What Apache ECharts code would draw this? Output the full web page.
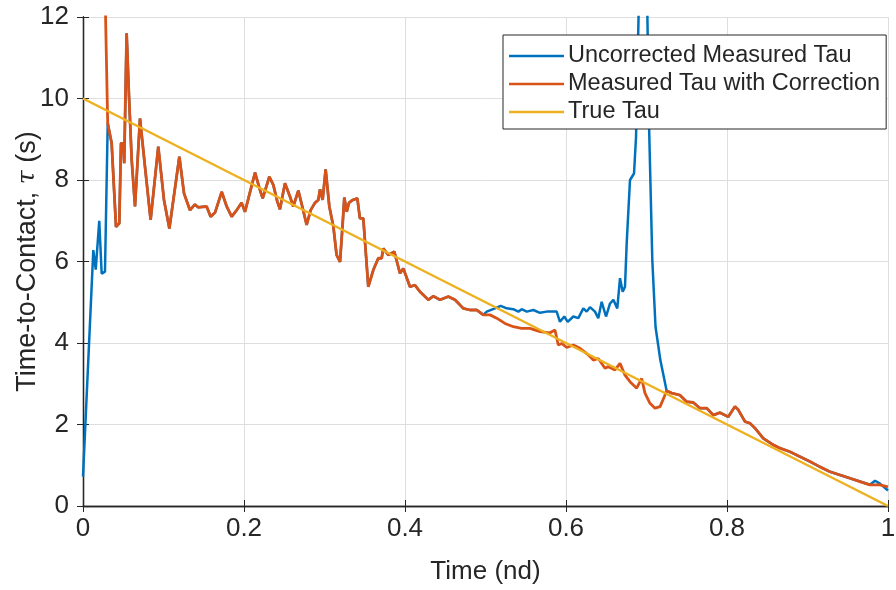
<!DOCTYPE html>
<html>
<head>
<meta charset="utf-8">
<script src="https://cdn.jsdelivr.net/npm/echarts@6/dist/echarts.min.js"></script>
<style>
  html, body { margin: 0; padding: 0; background: #fff; }
  #chart { width: 896px; height: 590px; }
</style>
</head>
<body>
<div id="chart"></div>
<script>
// Tick labels
const xTicks = [0, 0.2, 0.4, 0.6, 0.8, 1];
const yTicks = [0, 2, 4, 6, 8, 10, 12];

// Measured tau with correction (time in nd, tau in s)
const tCorr = [0.026, 0.0307, 0.0356, 0.041, 0.0451, 0.0472, 0.05, 0.0512, 0.0542, 0.057,
  0.0605, 0.0646, 0.0708, 0.077, 0.084, 0.0935, 0.1006, 0.1073, 0.1197, 0.1255,
  0.1329, 0.139, 0.143, 0.1536, 0.1586, 0.164, 0.1723, 0.1785, 0.1847, 0.1909,
  0.197, 0.2012, 0.2137, 0.2199, 0.2232, 0.2315, 0.2364, 0.2414, 0.2447, 0.2509,
  0.2572, 0.2612, 0.2675, 0.2724, 0.2778, 0.2828, 0.2882, 0.2923, 0.2944, 0.2977,
  0.3014, 0.306, 0.311, 0.315, 0.3193, 0.3226, 0.3246, 0.3276, 0.3304, 0.335,
  0.3408, 0.344, 0.3482, 0.3544, 0.3606, 0.3668, 0.371, 0.373, 0.3792, 0.3867,
  0.3938, 0.3979, 0.4062, 0.4124, 0.4186, 0.429, 0.4352, 0.4435, 0.4538, 0.4621,
  0.4724, 0.4807, 0.489, 0.4973, 0.5056, 0.5139, 0.5242, 0.5346, 0.5449, 0.5553,
  0.5677, 0.5801, 0.5863, 0.5904, 0.5947, 0.6009, 0.6091, 0.6174, 0.6277, 0.6339,
  0.6401, 0.6422, 0.6484, 0.6526, 0.6609, 0.6671, 0.6733, 0.6795, 0.6878, 0.694,
  0.6981, 0.7043, 0.7106, 0.7168, 0.7221, 0.725, 0.7313, 0.7416, 0.7499, 0.7581,
  0.7665, 0.7748, 0.783, 0.7913, 0.8016, 0.8099, 0.814, 0.8224, 0.8286, 0.8348,
  0.8451, 0.8575, 0.8658, 0.8783, 0.8907, 0.9031, 0.9155, 0.928, 0.9404, 0.9528,
  0.9652, 0.9776, 0.99, 1.0];
const tauCorr = [14.0, 9.39, 8.9, 6.85, 6.94, 8.9, 8.9, 8.41, 11.6, 10.13,
  8.49, 7.35, 9.51, 8.33, 7.02, 8.82, 7.51, 6.81, 8.57, 7.67,
  7.26, 7.4, 7.33, 7.35, 7.1, 7.2, 7.71, 7.35, 7.1, 7.26,
  7.44, 7.22, 8.18, 7.75, 7.55, 8.08, 7.88, 7.47, 7.28, 7.92,
  7.59, 7.35, 7.74, 7.35, 6.9, 7.26, 7.44, 7.51, 7.77, 7.51,
  8.26, 7.35, 6.86, 6.16, 5.99, 6.94, 7.57, 7.22, 7.44, 7.51,
  7.55, 7.06, 7.06, 5.38, 5.79, 6.08, 6.08, 6.32, 6.16, 6.24,
  5.71, 5.83, 5.38, 5.42, 5.26, 5.06, 5.15, 5.06, 5.14, 5.06,
  4.85, 4.81, 4.81, 4.69, 4.69, 4.61, 4.48, 4.4, 4.36, 4.36,
  4.28, 4.25, 4.32, 3.95, 3.99, 3.89, 3.95, 3.87, 3.71, 3.58,
  3.62, 3.65, 3.38, 3.42, 3.34, 3.5, 3.21, 3.05, 2.89, 3.13,
  2.77, 2.52, 2.4, 2.44, 2.68, 2.83, 2.77, 2.72, 2.56, 2.54,
  2.4, 2.4, 2.23, 2.29, 2.19, 2.44, 2.36, 2.07, 2.03, 1.91,
  1.66, 1.5, 1.42, 1.33, 1.21, 1.09, 0.96, 0.84, 0.76, 0.68,
  0.6, 0.52, 0.52, 0.47];

// Uncorrected measured tau: where it departs from the corrected curve
const tRawHead = [0, 0.0128, 0.0158, 0.0202, 0.0232, 0.0273];
const tauRawHead = [0.72, 6.28, 5.8, 7.0, 5.7, 5.75];
const tRawMid = [0.5015, 0.5118, 0.5189, 0.5263, 0.5345, 0.5408, 0.545, 0.5512, 0.5594, 0.5677,
  0.576, 0.5884, 0.5925, 0.5979, 0.6021, 0.6091, 0.6153, 0.6215, 0.6257, 0.6298,
  0.636, 0.6401, 0.6443, 0.6497, 0.6547, 0.6588, 0.6637, 0.6671, 0.6704, 0.6733,
  0.6754, 0.6795, 0.6845, 0.687, 0.6965, 0.7032, 0.7072, 0.7112, 0.7172];
const tauRawMid = [4.77, 4.85, 4.91, 4.85, 4.83, 4.77, 4.83, 4.77, 4.81, 4.74,
  4.77, 4.77, 4.52, 4.65, 4.52, 4.65, 4.61, 4.85, 4.77, 4.88,
  4.77, 4.61, 5.01, 4.65, 4.97, 5.06, 4.85, 5.59, 5.26, 5.38,
  6.45, 8.0, 8.16, 9.06, 18.0, 9.31, 6.04, 4.4, 3.58];
const tRawTail = [0.9839, 0.99, 1.0];
const tauRawTail = [0.62, 0.55, 0.38];

// True tau
const tTrue = [0, 1];
const tauTrue = [10, 0];

const pairs = (ts, vs) => ts.map((t, i) => [t, vs[i]]);
const corrPts = pairs(tCorr, tauCorr);
// the uncorrected series follows the corrected one outside its own segments
const shared1 = corrPts.filter(p => p[0] >= 0.0307 && p[0] <= 0.4973);
const shared2 = corrPts.filter(p => p[0] >= 0.725 && p[0] <= 0.9776);
const rawPts = [].concat(pairs(tRawHead, tauRawHead), shared1, pairs(tRawMid, tauRawMid),
  shared2, pairs(tRawTail, tauRawTail));

const ink = '#262626';
const font = 'Liberation Sans, Arial, sans-serif';

const chart = echarts.init(document.getElementById('chart'), null, { renderer: 'canvas' });
const baseX = { type: 'value', min: xTicks[0], max: xTicks[xTicks.length - 1], interval: 0.2 };
const baseY = { type: 'value', min: yTicks[0], max: yTicks[yTicks.length - 1], interval: 2 };

chart.setOption({
  animation: false,
  backgroundColor: '#fff',
  grid: { left: 83, right: 8, top: 17, bottom: 84, containLabel: false, outerBoundsMode: 'none' },
  legend: {
    left: 503, top: 35, orient: 'vertical',
    backgroundColor: '#fff', borderColor: ink, borderWidth: 1, borderRadius: 0,
    padding: [7, 6, 3, 6], itemGap: 0,
    icon: 'rect', itemWidth: 55, itemHeight: 2.5,
    textStyle: { fontFamily: font, fontSize: 23.5, color: ink, lineHeight: 28, padding: [0, 0, 0, -1] },
    data: ['Uncorrected Measured Tau', 'Measured Tau with Correction', 'True Tau']
  },
  xAxis: [
    Object.assign({}, baseX, {
      position: 'bottom',
      name: 'Time (nd)', nameLocation: 'middle', nameGap: 53, nameMoveOverlap: false,
      nameTextStyle: { fontFamily: font, fontSize: 26, color: ink },
      axisLine: { show: true, lineStyle: { color: ink, width: 1.3 } },
      axisTick: { show: true, inside: true, length: 6, lineStyle: { color: ink } },
      axisLabel: { fontFamily: font, fontSize: 26, color: ink, margin: 10,
        formatter: v => String(+v.toFixed(1)) },
      splitLine: { show: true, lineStyle: { color: '#dedede', width: 1 } }
    }),
    Object.assign({}, baseX, {
      position: 'top',
      axisLine: { show: true, lineStyle: { color: ink, width: 1.3 } },
      axisTick: { show: true, inside: true, length: 6, lineStyle: { color: ink } },
      axisLabel: { show: false }, splitLine: { show: false }
    })
  ],
  yAxis: [
    Object.assign({}, baseY, {
      position: 'left',
      name: 'Time-to-Contact, {i|τ} (s)', nameLocation: 'middle', nameGap: 42, nameRotate: 90,
      nameMoveOverlap: false,
      nameTextStyle: { fontFamily: font, fontSize: 27, color: ink,
        rich: { i: { fontFamily: 'DejaVu Serif, serif', fontStyle: 'italic', fontSize: 25, color: ink } } },
      axisLine: { show: true, lineStyle: { color: ink, width: 1.3 } },
      axisTick: { show: true, inside: true, length: 6, lineStyle: { color: ink } },
      axisLabel: { fontFamily: font, fontSize: 26, color: ink, margin: 14 },
      splitLine: { show: true, lineStyle: { color: '#dedede', width: 1 } }
    }),
    Object.assign({}, baseY, {
      position: 'right',
      axisLine: { show: true, lineStyle: { color: ink, width: 1.3 } },
      axisTick: { show: true, inside: true, length: 6, lineStyle: { color: ink } },
      axisLabel: { show: false }, splitLine: { show: false }
    })
  ],
  series: [
    { name: 'Uncorrected Measured Tau', type: 'line', data: rawPts, showSymbol: false, symbol: 'none',
      clip: true, color: '#0072BD', lineStyle: { width: 2.5, color: '#0072BD' }, z: 2 },
    { name: 'Measured Tau with Correction', type: 'line', data: corrPts, showSymbol: false, symbol: 'none',
      clip: true, color: '#D95319', lineStyle: { width: 2.8, color: '#D95319' }, z: 3 },
    { name: 'True Tau', type: 'line', data: pairs(tTrue, tauTrue), showSymbol: false, symbol: 'none',
      clip: true, color: '#EDB120', lineStyle: { width: 2.5, color: '#EDB120' }, z: 4 }
  ]
});
</script>
</body>
</html>
